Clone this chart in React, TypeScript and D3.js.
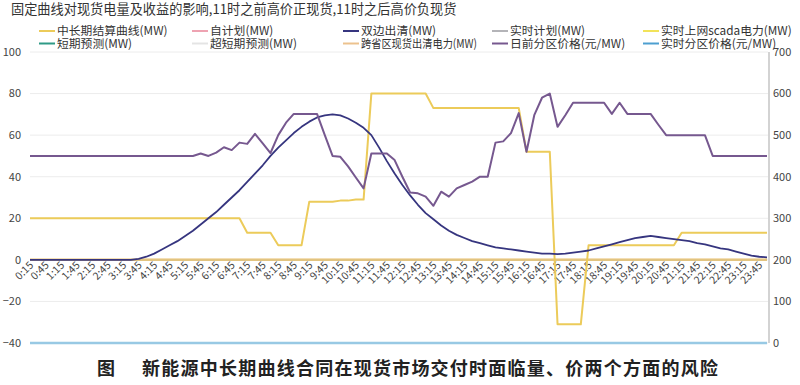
import React, { useEffect } from 'react';
import * as d3 from 'd3';

// category labels 0:15 ... 24:00 (96 points, 15 min)
const times: string[] = d3.range(1, 97).map(k => `${Math.floor((k * 15) / 60)}:${String((k * 15) % 60).padStart(2, '0')}`);

// 中长期结算曲线 (MW, left axis)
const midLong: number[] = [
  20, 20, 20, 20, 20, 20, 20, 20, 20, 20, 20, 20, 20, 20, 20, 20, 20, 20, 20, 20,
  20, 20, 20, 20, 20, 20, 20, 20, 13, 13, 13, 13, 7, 7, 7, 7, 28, 28, 28, 28,
  28.5, 28.5, 29, 29, 80, 80, 80, 80, 80, 80, 80, 80, 73, 73, 73, 73, 73, 73, 73, 73,
  73, 73, 73, 73, 52, 52, 52, 52, -31, -31, -31, -31, 7, 7, 7, 7, 7, 7, 7, 7,
  7, 7, 7, 7, 13, 13, 13, 13, 13, 13, 13, 13, 13, 13, 13, 13,
];

// 双边出清 (MW, left axis)
const bilateral: number[] = [
  0, 0, 0, 0, 0, 0, 0, 0, 0, 0, 0, 0, 0, 0, 0.5, 1.5, 3, 5, 7, 9,
  11.5, 14, 17, 20, 23, 26.5, 30, 33.5, 37.5, 41.5, 45.5, 50, 54, 57.5, 61, 64, 66.5, 68.5, 69.5, 70,
  69.5, 68, 66, 63.5, 60, 54, 47.5, 41.5, 36, 31, 26.5, 22.5, 19.5, 16.5, 14, 12, 10.5, 9, 8, 7,
  6, 5.5, 5, 4.5, 4, 3.5, 3, 3, 2.8, 3, 3.5, 4, 4.5, 5.5, 6.5, 7.5, 8.5, 9.5, 10.5, 11,
  11.5, 11, 10.5, 10, 9.5, 9, 8, 7.5, 6.5, 5.5, 5, 4, 3, 2, 1.5, 1.2,
];

// 日前分区价格 (元/MW, right axis)
const dayAheadPrice: number[] = [
  450, 450, 450, 450, 450, 450, 450, 450, 450, 450, 450, 450, 450, 450, 450, 450, 450, 450, 450, 450,
  450, 450, 456, 450, 458, 471, 464, 482, 479, 503, 480, 457, 500, 530, 551, 551, 551, 551, 500, 450,
  448, 425, 398, 372, 456, 456, 456, 440, 400, 362, 360, 352, 330, 364, 352, 372, 380, 388, 400, 400,
  482, 485, 505, 553, 460, 548, 590, 600, 520, 548, 578, 578, 578, 578, 578, 551, 578, 551, 551, 551,
  551, 525, 500, 500, 500, 500, 500, 500, 450, 450, 450, 450, 450, 450, 450, 450,
];

// series with no visible data: flat at 0
const zeros: number[] = times.map(() => 0);

const title = '固定曲线对现货电量及收益的影响,11时之前高价正现货,11时之后高价负现货';
const caption = '新能源中长期曲线合同在现货市场交付时面临量、价两个方面的风险';

const leftTicks = [100, 80, 60, 40, 20, 0, -20, -40];
const rightTicks = [700, 600, 500, 400, 300, 200, 100, 0];

const legendItems = [
  { name: '中长期结算曲线(MW)', color: '#eccb5a' },
  { name: '自计划(MW)', color: '#eea3b2' },
  { name: '双边出清(MW)', color: '#36357f' },
  { name: '实时计划(MW)', color: '#b4b4b8' },
  { name: '实时上网scada电力(MW)', color: '#f2e35a' },
  { name: '短期预测(MW)', color: '#2f9a86' },
  { name: '超短期预测(MW)', color: '#e4e4e4' },
  { name: '跨省区现货出清电力(MW)', color: '#ecc28e', squeeze: 116 },
  { name: '日前分区价格(元/MW)', color: '#76588f' },
  { name: '实时分区价格(元/MW)', color: '#4d9fd0' },
];

const FONT = '"Noto Sans CJK SC", "Noto Sans", sans-serif';

const App: React.FC = () => {
  useEffect(() => {
    document.body.style.margin = '0';
  }, []);

  const width = 800;
  const height = 385;

  const x = d3.scalePoint<string>().domain(times).range([30, 767]);
  const yL = d3.scaleLinear().domain([-40, 100]).range([343, 52]);
  const yR = d3.scaleLinear().domain([0, 700]).range([343, 52]);

  const lineL = d3.line<number>().x((_, i) => x(times[i]) ?? 0).y(d => yL(d));
  const lineR = d3.line<number>().x((_, i) => x(times[i]) ?? 0).y(d => yR(d));

  const legendCols = [39, 192, 343, 492, 643];
  const legendRows = [31, 43.5];

  return (
    <svg width={width} height={height} style={{ display: 'block', background: '#fff' }} fontFamily={FONT}>
      <text x={11} y={14} fontSize={13.2} fill="#333">{title}</text>

      {/* legend */}
      {legendItems.map((d, i) => {
        const col = i % 5;
        const row = Math.floor(i / 5);
        const lx = legendCols[col];
        const ly = legendRows[row];
        return (
          <g key={d.name}>
            <line x1={lx} x2={lx + 16} y1={ly} y2={ly} stroke={d.color} strokeWidth={2} />
            <text
              x={lx + 18}
              y={ly}
              dy="0.35em"
              fontSize={11.8}
              fill="#333"
              {...(d.squeeze ? { textLength: d.squeeze, lengthAdjust: 'spacingAndGlyphs' } : {})}
            >{d.name}</text>
          </g>
        );
      })}

      {/* grid */}
      {leftTicks.map(t => (
        <line key={t} x1={30} x2={768} y1={yL(t)} y2={yL(t)} stroke="#ececec" strokeWidth={1} />
      ))}

      {/* left axis labels */}
      {leftTicks.map(t => (
        <text key={t} x={21} y={yL(t)} dy="0.35em" textAnchor="end" fontSize={11} fill="#444">
          {t < 0 ? `−${-t}` : t}
        </text>
      ))}

      {/* right axis */}
      <line x1={769} x2={769} y1={52} y2={343} stroke="#c4c4c4" strokeWidth={1.5} />
      {rightTicks.map(t => (
        <text key={t} x={773} y={yR(t)} dy="0.35em" fontSize={11} fill="#444">{t}</text>
      ))}

      {/* x labels */}
      {times.map((t, i) => i % 2 === 0 ? (
        <text
          key={t}
          transform={`translate(${(x(t) ?? 0) + 4},${266}) rotate(-45)`}
          textAnchor="end"
          fontSize={10.5}
          fill="#444"
        >{t}</text>
      ) : null)}

      {/* zero series */}
      <path d={lineL(zeros) ?? ''} fill="none" stroke="#eea3b2" strokeWidth={2} />
      <path d={lineL(zeros) ?? ''} fill="none" stroke="#f2e35a" strokeWidth={2} />
      <path d={lineL(zeros) ?? ''} fill="none" stroke="#e2c480" strokeWidth={2.2} />
      <path d={lineR(zeros) ?? ''} fill="none" stroke="#98c9e4" strokeWidth={2.5} />

      {/* main series */}
      <path d={lineL(midLong) ?? ''} fill="none" stroke="#eccb5a" strokeWidth={2} strokeLinejoin="round" />
      <path d={lineL(bilateral) ?? ''} fill="none" stroke="#36357f" strokeWidth={1.8} strokeLinejoin="round" />
      <path d={lineR(dayAheadPrice) ?? ''} fill="none" stroke="#76588f" strokeWidth={2} strokeLinejoin="round" />

      {/* caption */}
      <text x={97} y={375} fontSize={18} fontWeight="bold" fill="#222">图</text>
      <text x={142} y={375} fontSize={18} fontWeight="bold" fill="#222" textLength={576} lengthAdjust="spacing">{caption}</text>
    </svg>
  );
};

export default App;
